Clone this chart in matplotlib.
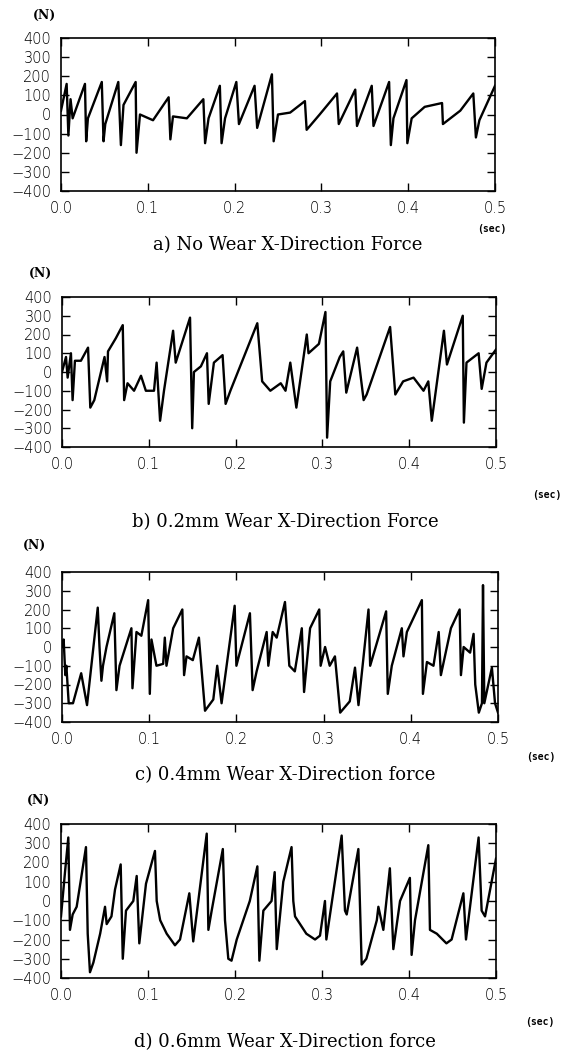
import numpy as np
import matplotlib
matplotlib.use("Agg")
import matplotlib.pyplot as plt

# values (time in s, force in N)
t_a = [0.0, 0.0065, 0.0085, 0.011, 0.0134, 0.0276, 0.029, 0.031, 0.047, 0.049, 0.051,
       0.066, 0.069, 0.072, 0.086, 0.087, 0.091, 0.106, 0.124, 0.126, 0.129, 0.145,
       0.164, 0.166, 0.170, 0.183, 0.185, 0.189, 0.202, 0.205, 0.223, 0.226, 0.243,
       0.245, 0.250, 0.264, 0.281, 0.283, 0.298, 0.318, 0.320, 0.339, 0.341, 0.358,
       0.360, 0.378, 0.380, 0.383, 0.398, 0.399, 0.404, 0.419, 0.439, 0.440, 0.460,
       0.475, 0.478, 0.482, 0.500]
v_a = [20, 160, -110, 80, -20, 160, -140, -20, 170, -140, -50,
       170, -160, 50, 170, -200, 0, -30, 90, -130, -10, -20,
       80, -150, -20, 150, -150, -20, 170, -50, 150, -70, 210,
       -140, 0, 10, 70, -80, 0, 110, -50, 130, -60, 150,
       -60, 170, -160, -20, 180, -150, -20, 40, 60, -50, 20,
       110, -120, -30, 150]

t_b = [0.0, 0.0046, 0.0065, 0.0103, 0.0122, 0.0149, 0.0218, 0.030, 0.0326, 0.0372,
       0.049, 0.052, 0.053, 0.062, 0.070, 0.0716, 0.0755, 0.083, 0.091, 0.0966,
       0.106, 0.109, 0.113, 0.1175, 0.128, 0.131, 0.1475, 0.150, 0.152, 0.160,
       0.167, 0.169, 0.175, 0.185, 0.1885, 0.194, 0.225, 0.2306, 0.240, 0.252,
       0.2575, 0.263, 0.270, 0.282, 0.284, 0.296, 0.3035, 0.3054, 0.309, 0.320,
       0.324, 0.3275, 0.340, 0.3475, 0.351, 0.378, 0.384, 0.393, 0.405, 0.4165,
       0.422, 0.426, 0.440, 0.4435, 0.4617, 0.463, 0.466, 0.480, 0.4835, 0.489, 0.500]
v_b = [0, 80, -30, 100, -150, 60, 60, 130, -190, -150,
       80, -50, 110, 180, 250, -150, -60, -100, -20, -100,
       -100, 50, -260, -100, 220, 50, 290, -300, 0, 30,
       100, -170, 50, 90, -170, -100, 260, -50, -100, -60,
       -100, 50, -190, 200, 100, 150, 320, -350, -50, 80,
       110, -110, 130, -150, -120, 240, -120, -50, -30, -100,
       -50, -260, 220, 40, 300, -270, 50, 100, -90, 50, 120]

t_c = [0.0, 0.0019, 0.0038, 0.005, 0.0077, 0.0126, 0.022, 0.0287, 0.041, 0.043,
       0.0452, 0.047, 0.051, 0.060, 0.0624, 0.066, 0.0796, 0.0808, 0.0854, 0.091,
       0.0988, 0.1007, 0.1026, 0.1083, 0.116, 0.1179, 0.1198, 0.1275, 0.138, 0.140,
       0.1428, 0.150, 0.157, 0.164, 0.1735, 0.178, 0.183, 0.198, 0.200, 0.2155,
       0.2186, 0.2232, 0.2347, 0.2366, 0.2416, 0.2462, 0.2557, 0.2607, 0.267, 0.275,
       0.2776, 0.2845, 0.295, 0.2966, 0.3017, 0.307, 0.313, 0.317, 0.319, 0.330,
       0.336, 0.340, 0.3515, 0.3534, 0.3717, 0.3736, 0.3782, 0.3897, 0.3916, 0.3955,
       0.4127, 0.4139, 0.4185, 0.426, 0.432, 0.4345, 0.446, 0.456, 0.4575, 0.4606,
       0.468, 0.472, 0.4739, 0.478, 0.4816, 0.4828, 0.4843, 0.493, 0.4966, 0.500]
v_c = [0, 40, -150, -100, -300, -300, -140, -310, 210, 0,
       -180, -100, 0, 180, -230, -100, 100, -220, 80, 60,
       250, -250, 40, -100, -90, 50, -100, 100, 200, -150,
       -50, -70, 50, -340, -280, -100, -300, 220, -100, 180,
       -230, -130, 80, -100, 80, 50, 240, -100, -130, 100,
       -240, 100, 200, -100, 0, -100, -50, -250, -350, -290,
       -110, -310, 200, -100, 190, -250, -100, 100, -50, 80,
       250, -250, -80, -100, 80, -150, 100, 200, -150, 0,
       -30, 70, -200, -350, -300, 330, -300, -110, -300, -350]

t_d = [0.0, 0.0046, 0.0084, 0.0103, 0.0134, 0.018, 0.0287, 0.0307, 0.0333, 0.0372,
       0.045, 0.0506, 0.0525, 0.058, 0.0621, 0.0686, 0.071, 0.0747, 0.0831, 0.087,
       0.090, 0.0977, 0.108, 0.1100, 0.114, 0.1215, 0.131, 0.1368, 0.1475, 0.152,
       0.1675, 0.1694, 0.1732, 0.186, 0.1885, 0.1923, 0.196, 0.202, 0.217, 0.2257,
       0.228, 0.2326, 0.242, 0.2456, 0.248, 0.2555, 0.265, 0.2670, 0.2690, 0.282,
       0.292, 0.2977, 0.3034, 0.305, 0.3226, 0.3264, 0.3284, 0.3418, 0.3456, 0.351,
       0.363, 0.3648, 0.3705, 0.378, 0.382, 0.3897, 0.401, 0.403, 0.4069, 0.4222,
       0.4241, 0.432, 0.443, 0.449, 0.4625, 0.4655, 0.480, 0.4835, 0.4874, 0.500]
v_d = [-80, 150, 330, -150, -70, -30, 280, -170, -370, -320,
       -170, -30, -120, -80, 60, 190, -300, -50, 0, 130,
       -220, 90, 260, 0, -100, -170, -230, -200, 40, -210,
       350, -150, -50, 270, -100, -300, -310, -200, 0, 180,
       -310, -50, 0, 150, -250, 100, 280, 0, -80, -170,
       -200, -180, 0, -200, 340, -50, -70, 270, -330, -300,
       -100, -30, -150, 170, -250, 0, 120, -280, -100, 290,
       -150, -170, -220, -200, 40, -200, 330, -50, -80, 220]

titles = ["a) No Wear X-Direction Force",
          "b) 0.2mm Wear X-Direction Force",
          "c) 0.4mm Wear X-Direction force",
          "d) 0.6mm Wear X-Direction force"]
series = [(t_a, v_a), (t_b, v_b), (t_c, v_c), (t_d, v_d)]

W, H = 562, 1050
fig = plt.figure(figsize=(W / 100, H / 100), dpi=100)

# pixel boxes: left, top, right, bottom
boxes = [(61, 38, 495, 191), (62, 297, 496, 447), (62, 572, 498, 722), (61, 824, 496, 978)]
n_pos = [(45, 15), (40, 273), (35, 545), (38, 800)]
sec_pos = [(492, 229), (547, 495), (541, 757), (540, 1022)]
title_pos = [(288, 245), (285, 522), (285, 775), (285, 1042)]

for i, (t, v) in enumerate(series):
    l, tp, r, b = boxes[i]
    ax = fig.add_axes([l / W, 1 - b / H, (r - l) / W, (b - tp) / H])
    ax.plot(t, v, color="black", linewidth=1.7)
    ax.set_xlim(0, 0.5)
    ax.set_ylim(-400, 400)
    ax.set_xticks(np.arange(0, 0.51, 0.1))
    ax.set_xticklabels(["0.0", "0.1", "0.2", "0.3", "0.4", "0.5"])
    ax.set_yticks(np.arange(-400, 401, 100))
    ax.tick_params(direction="in", top=True, right=True, length=6, width=1,
                   labelsize=10.5, pad=7)
    for lab in ax.get_xticklabels() + ax.get_yticklabels():
        lab.set_family("DejaVu Sans")
        lab.set_fontweight("light")
    for s in ax.spines.values():
        s.set_linewidth(1.2)

    fig.text(n_pos[i][0] / W, 1 - n_pos[i][1] / H, "(N)", ha="center", va="center",
             family="DejaVu Serif", fontweight="bold", fontsize=9)
    fig.text(sec_pos[i][0] / W, 1 - sec_pos[i][1] / H, "(sec)", ha="center", va="center",
             family="DejaVu Sans Mono", fontweight="bold", fontsize=7)
    fig.text(title_pos[i][0] / W, 1 - title_pos[i][1] / H, titles[i], ha="center",
             va="center", family="DejaVu Serif", fontsize=13)

fig.savefig("out.png", dpi=100)
